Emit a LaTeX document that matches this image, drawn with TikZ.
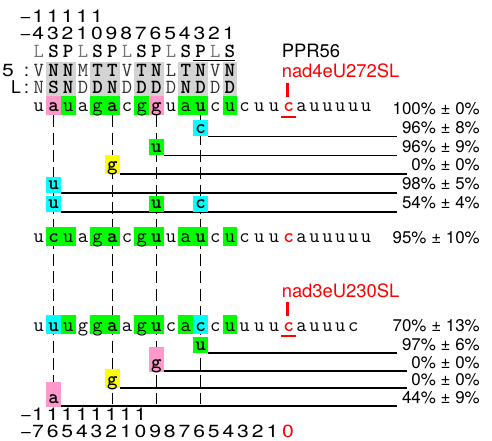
\documentclass[tikz,border=0pt]{standalone}
\usepackage{fontspec}
\usepackage{graphicx}
\newfontfamily\helv{TeX Gyre Heros}
\usetikzlibrary{calc,backgrounds}

\definecolor{hlgreen}{RGB}{0,255,0}
\definecolor{hlpink}{RGB}{255,153,204}
\definecolor{hlcyan}{RGB}{0,255,255}
\definecolor{hlyellow}{RGB}{255,255,0}
\definecolor{hlgray}{RGB}{211,211,211}
\definecolor{edred}{RGB}{255,0,0}

\newcommand\seqfont{\ttfamily\fontsize{15}{15}\selectfont}
\newcommand\seqfontb{\ttfamily\bfseries\fontsize{15}{15}\selectfont}
\newcommand\numfont{\helv\fontsize{13.2}{13.2}\selectfont}
\newcommand\pctfont{\helv\fontsize{12.7}{12.7}\selectfont}
\newcommand\tagfont{\helv\fontsize{13.8}{13.8}\selectfont}
% slightly widened numerals of the numbering rows
\newcommand\wdig[1]{\scalebox{1.2}[1]{#1}}

\tikzset{
  cellbase/.style={rectangle, inner sep=0pt, minimum width=11.025pt, text depth=0pt, anchor=base, font=\seqfont},
  seqcell/.style={cellbase, minimum height=13.9pt, text height=9.4pt},
  mutcell/.style={cellbase, font=\seqfontb, minimum height=12pt, text height=7.5pt},
  mutyellow/.style={cellbase, font=\seqfontb, fill=hlyellow, minimum height=13.9pt, text height=9.4pt},
  mutpink/.style={cellbase, font=\seqfontb, fill=hlpink, minimum height=18.4pt, text height=13.1pt},
  wpl/.style={},
  wbd/.style={font=\seqfontb},
  wrd/.style={font=\seqfontb, text=edred},
  motif/.style={inner sep=0pt, anchor=base, font=\seqfont},
  mL/.style={motif, text=black!55},
  mN/.style={motif, text=black!80},
  mB/.style={motif, font=\seqfontb},
  num/.style={inner sep=0pt, anchor=base, font=\numfont},
  pct/.style={inner sep=0pt, anchor=base east, font=\pctfont},
  tagname/.style={inner sep=0pt, anchor=base west, font=\tagfont},
  hline/.style={line width=1pt, shorten >=3.5pt},
  vdash/.style={line width=0.75pt, dash pattern=on 9pt off 4pt},
  redmark/.style={edred, line width=1.6pt},
}

% one row of nucleotides: prefix, baseline, list of index/letter/fill/weight
\newcommand\seqrow[3]{%
  \foreach \i/\ch/\fl/\st in {#3}{%
    \pgfmathsetmacro\xx{\i<18 ? 38.8+14.7*\i : 288.7+12.9*(\i-17)}%
    \node[seqcell,\st,fill=\fl] (#1-\i) at (\xx,#2) {\ch};
  }}

\begin{document}
\begin{tikzpicture}[x=0.75pt,y=-0.75pt]
\useasboundingbox (0,0) rectangle (492,441);

% motif numbering
\node[num] (tm1) at (25.5,23) {\wdig{−}};
\foreach \k in {0,...,4} \node[num] (tt-\k) at ({38.3+14.65*\k},23) {\wdig{1}};
\node[num] (tm2) at (25.5,40) {\wdig{−}};
\foreach \d [count=\k from 0] in {4,3,2,1,0,9,8,7,6,5,4,3,2,1}
  \node[num] (tb-\k) at ({38.3+14.65*\k},40) {\wdig{\d}};

% motif types
\foreach \i/\m/\s in {0/L/mL,1/S/mB,2/P/mB,3/L/mL,4/S/mB,5/P/mB,6/L/mL,7/S/mB,8/P/mB,9/L/mL,10/S/mB,11/P/mB,12/L/mL,13/S/mB}
  \node[\s] (mt-\i) at ({38.8+14.7*\i},58) {\m};

% position 5 and last position residues
\node[num] (l5) at (8,77) {\wdig{5}};
\node[num] (l5c) at (26.5,77) {:};
\node[num] (lL) at (16,93.5) {L};
\node[num] (lLc) at (26.5,93.5) {:};
\foreach \i/\m/\s in {0/V/mN,1/N/mB,2/N/mB,3/M/mN,4/T/mB,5/T/mB,6/V/mN,7/T/mB,8/N/mB,9/L/mN,10/T/mB,11/N/mB,12/V/mN,13/N/mB}
  \node[\s] (p5-\i) at ({38.8+14.7*\i},77) {\m};
\foreach \i/\m/\s in {0/N/mN,1/S/mB,2/N/mB,3/D/mN,4/D/mB,5/N/mB,6/D/mN,7/D/mB,8/D/mB,9/D/mN,10/N/mB,11/D/mB,12/D/mN,13/D/mB}
  \node[\s] (pL-\i) at ({38.8+14.7*\i},93.5) {\m};

% site labels
\node[tagname] (ppr) at (281.5,58) {PPR56};
\node[tagname, text=edred] (site1) at (281.5,78) {nad4eU272SL};
\node[tagname, text=edred] (site2) at (281.5,297) {nad3eU230SL};

% target sequences
\seqrow{s1}{112}{0/u/none/wpl,1/a/hlpink/wbd,2/u/hlgreen/wpl,3/a/none/wpl,4/g/hlgreen/wpl,5/a/hlgreen/wbd,6/c/none/wpl,7/g/hlgreen/wpl,8/g/hlpink/wbd,9/u/none/wpl,10/a/hlgreen/wpl,11/u/hlgreen/wbd,12/c/none/wpl,13/u/hlgreen/wpl,14/c/none/wpl,15/u/none/wpl,16/u/none/wpl,17/c/none/wrd,18/a/none/wpl,19/u/none/wpl,20/u/none/wpl,21/u/none/wpl,22/u/none/wpl,23/u/none/wpl}
\seqrow{s2}{243}{0/u/none/wpl,1/c/hlgreen/wbd,2/u/hlgreen/wpl,3/a/none/wpl,4/g/hlgreen/wpl,5/a/hlgreen/wbd,6/c/none/wpl,7/g/hlgreen/wpl,8/u/hlgreen/wbd,9/u/none/wpl,10/a/hlgreen/wpl,11/u/hlgreen/wbd,12/c/none/wpl,13/u/hlgreen/wpl,14/c/none/wpl,15/u/none/wpl,16/u/none/wpl,17/c/none/wrd,18/a/none/wpl,19/u/none/wpl,20/u/none/wpl,21/u/none/wpl,22/u/none/wpl,23/u/none/wpl}
\seqrow{s3}{331}{0/u/none/wpl,1/u/hlcyan/wbd,2/u/hlgreen/wpl,3/g/none/wpl,4/g/hlgreen/wpl,5/a/hlgreen/wbd,6/a/none/wpl,7/g/hlgreen/wpl,8/u/hlgreen/wbd,9/c/none/wpl,10/a/hlgreen/wpl,11/c/hlcyan/wbd,12/c/none/wpl,13/u/hlgreen/wpl,14/u/none/wpl,15/u/none/wpl,16/u/none/wpl,17/c/none/wrd,18/a/none/wpl,19/u/none/wpl,20/u/none/wpl,21/u/none/wpl,22/c/none/wpl}

\node[pct] (q1) at (480,114.5) {100\% ± 0\%};
\node[pct] (q2) at (480,243.5) {95\% ± 10\%};
\node[pct] (q3) at (480,331.5) {70\% ± 13\%};

% mutant variants, first target
\node[mutcell, fill=hlcyan] (mA) at ({38.8+14.7*11},133.5) {c};
\node[pct] (pA) at (480,133.5) {96\% ± 8\%};
\node[mutcell, fill=hlgreen] (mB) at ({38.8+14.7*8},152.5) {u};
\node[pct] (pB) at (480,152.5) {96\% ± 9\%};
\node[mutyellow] (mC) at ({38.8+14.7*5},171) {g};
\node[pct] (pC) at (480,171) {0\% ± 0\%};
\node[mutcell, fill=hlcyan] (mD) at ({38.8+14.7*1},190) {u};
\node[pct] (pD) at (480,190) {98\% ± 5\%};
\node[mutcell, fill=hlcyan] (mE1) at ({38.8+14.7*1},209) {u};
\node[mutcell, fill=hlgreen] (mE8) at ({38.8+14.7*8},209) {u};
\node[mutcell, fill=hlcyan] (mE11) at ({38.8+14.7*11},209) {c};
\node[pct] (pE) at (480,209) {54\% ± 4\%};

% mutant variants, second target
\node[mutcell, fill=hlgreen] (mF) at ({38.8+14.7*11},350) {u};
\node[pct] (pF) at (480,350) {97\% ± 6\%};
\node[mutpink] (mG) at ({38.8+14.7*8},368) {g};
\node[pct] (pG) at (480,368) {0\% ± 0\%};
\node[mutyellow] (mH) at ({38.8+14.7*5},385) {g};
\node[pct] (pH) at (480,385) {0\% ± 0\%};
\node[mutpink] (mI) at ({38.8+14.7*1},403) {a};
\node[pct] (pI) at (480,403) {44\% ± 9\%};

% position numbering
\node[num] (bm1) at (26,420) {\wdig{−}};
\foreach \k in {0,...,7} \node[num] (bt-\k) at ({38+14.65*\k},420) {\wdig{1}};
\node[num] (bm2) at (26,437.5) {\wdig{−}};
\foreach \d [count=\k from 0] in {7,6,5,4,3,2,1,0,9,8,7,6,5,4,3,2,1}
  \node[num] (bb-\k) at ({38+14.65*\k},437.5) {\wdig{\d}};
\node[num, text=edred] (bzero) at (288,437.5) {\wdig{0}};

% ends of the guide lines
\coordinate (v5) at ({38.8+14.7*5},404);
\coordinate (v8) at ({38.8+14.7*8},404);
\coordinate (v11) at ({38.8+14.7*11},404);

\begin{scope}[on background layer]
  \foreach \a/\b in {1/2,4/5,7/8,10/11,13/13}
    \fill[hlgray] ({38.8+14.7*\a-7.35},62) rectangle ({38.8+14.7*\b+7.35},97);
  \draw[line width=0.9pt] ({38.8+14.7*11-7.35},60.5) -- ({38.8+14.7*13+5.5},60.5);
  \draw[vdash] (s1-1.south) -- (mI.north);
  \draw[vdash] (s1-5.south) -- (v5);
  \draw[vdash] (s1-8.south) -- (v8);
  \draw[vdash] (s1-11.south) -- (v11);
  \foreach \m/\p in {mA/pA,mB/pB,mC/pC,mD/pD,mE1/pE,mF/pF,mG/pG,mH/pH,mI/pI}
    \draw[hline] ($(\m.base east)+(0,3)$) -- ($(\p.base west)+(0,3)$);
\end{scope}

% edited cytidines
\draw[redmark] (287.5,83) -- (287.5,97);
\draw[redmark] ($(s1-17.base)+(-7.3,4.8)$) -- ++(14.6,0);
\draw[redmark] (287.5,302) -- (287.5,316);
\draw[redmark] ($(s3-17.base)+(-7.3,4.8)$) -- ++(14.6,0);
\end{tikzpicture}
\end{document}
